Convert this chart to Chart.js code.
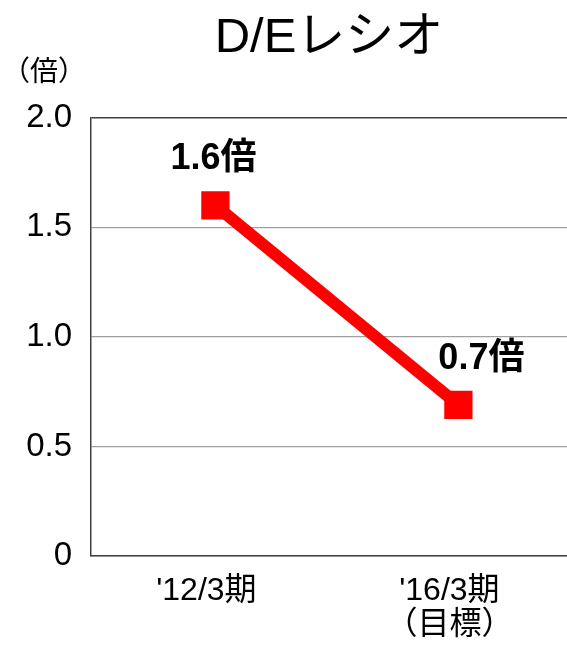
<!DOCTYPE html>
<html>
<head>
<meta charset="utf-8">
<script src="https://cdn.jsdelivr.net/npm/chart.js@4"></script>
<style>
  html, body { margin: 0; padding: 0; background: #fff; }
  #wrap { width: 567px; height: 650px; }
</style>
</head>
<body>
<div id="wrap"><canvas id="deChart"></canvas></div>
<script>
// data
const periods = [["'12/3期"], ["'16/3期", "（目標）"]];
const deRatio = [1.6, 0.69];
const valueLabels = ["1.6倍", "0.7倍"];
const yTicks = [0, 0.5, 1.0, 1.5, 2.0];

const FONT = "'Liberation Sans', Arial, 'Noto Sans CJK JP', sans-serif";
const DARK = "#404040";

// value labels above the markers + unit label in the corner
const labelPlugin = {
  id: "labelPlugin",
  afterDatasetsDraw(chart) {
    const ctx = chart.ctx;
    const meta = chart.getDatasetMeta(0);
    const shift = [-2, 23];
    ctx.save();
    ctx.fillStyle = "#000";
    ctx.textAlign = "center";
    ctx.textBaseline = "middle";
    ctx.font = "bold 36px " + FONT;
    meta.data.forEach((pt, i) => {
      ctx.fillText(valueLabels[i], pt.x + shift[i], pt.y - 46);
    });
    ctx.font = "28px " + FONT;
    ctx.fillText("（倍）", 44, 73);
    ctx.restore();
  }
};

const ctx = document.getElementById("deChart").getContext("2d");
new Chart(ctx, {
  type: "line",
  data: {
    datasets: [
      {
        label: "D/Eレシオ",
        data: deRatio.map((v, i) => ({ x: i, y: v })),
        borderColor: "#ff0000",
        backgroundColor: "#ff0000",
        borderWidth: 12,
        tension: 0,
        pointStyle: "rect",
        pointRadius: 20,
        pointHoverRadius: 20,
        pointBorderWidth: 0,
        pointBackgroundColor: "#ff0000",
      },
    ],
  },
  options: {
    responsive: true,
    maintainAspectRatio: false,
    animation: false,
    layout: { autoPadding: false, padding: 0 },
    plugins: {
      legend: { display: false },
      tooltip: { enabled: false },
      title: {
        display: true,
        text: "D/Eレシオ",
        fullSize: false,
        color: "#000",
        font: { family: FONT, size: 49, weight: "normal", lineHeight: 1.2 },
        padding: { top: 9, bottom: 50 },
      },
    },
    scales: {
      x: {
        type: "linear",
        min: -0.512,
        max: 1.447,
        afterBuildTicks: (scale) => {
          scale.ticks = periods.map((p, i) => ({ value: i }));
        },
        afterFit: (scale) => {
          scale.height = 94;
          scale.paddingLeft = 0;
          scale.paddingRight = 0;
        },
        grid: { display: false, drawTicks: false },
        border: { display: true, color: DARK, width: 1.5 },
        ticks: {
          color: "#000",
          padding: 18,
          labelOffset: -9,
          maxRotation: 0,
          autoSkip: false,
          font: { family: FONT, size: 32, lineHeight: 1.07 },
          callback: (v) => periods[v] || "",
        },
      },
      y: {
        min: 0,
        max: 2.0,
        afterBuildTicks: (scale) => {
          scale.ticks = yTicks.map((v) => ({ value: v }));
        },
        afterFit: (scale) => { scale.width = 91; },
        grid: {
          drawTicks: false,
          lineWidth: (c) => (c.tick && c.tick.value === 2 ? 1.5 : 1.2),
          color: (c) => (c.tick && c.tick.value === 2 ? DARK : "#a0a0a0"),
        },
        border: { display: true, color: DARK, width: 1.5 },
        ticks: {
          color: "#000",
          padding: 19,
          font: { family: FONT, size: 33 },
          callback: (v) => (v === 0 ? "0" : v.toFixed(1)),
        },
      },
    },
  },
  plugins: [labelPlugin],
});
</script>
</body>
</html>
